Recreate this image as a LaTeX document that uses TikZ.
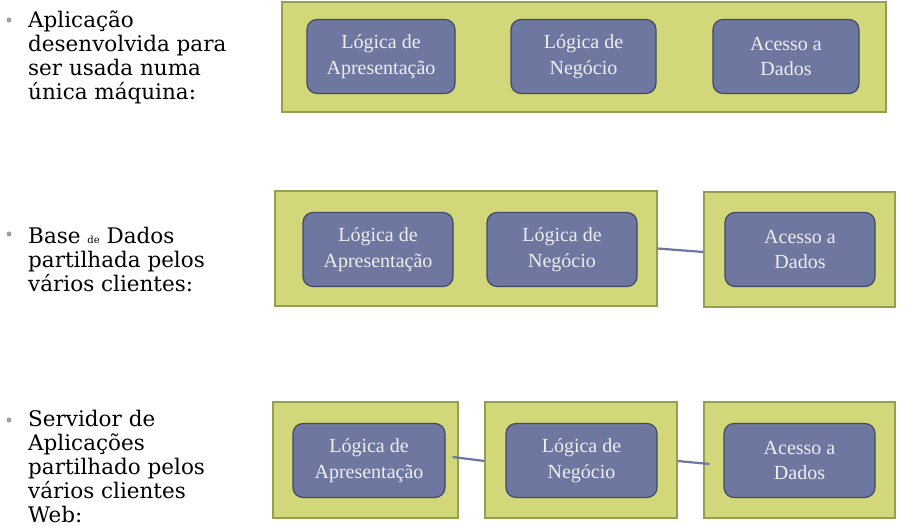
\documentclass[tikz,border=0pt]{standalone}
\usepackage{fontspec}
\usepackage{tikz}
\usetikzlibrary{positioning}
\newfontfamily\boxfont{Liberation Serif}
\newfontfamily\itemfont{DejaVu Serif}
\definecolor{tiergreen}{RGB}{210,215,122}
\definecolor{tierline}{RGB}{150,158,82}
\definecolor{layerblue}{RGB}{110,119,160}
\definecolor{layerline}{RGB}{66,74,104}
\definecolor{layertext}{RGB}{238,238,242}

\begin{document}
\begin{tikzpicture}
[x=1pt,y=-1pt,
 tier/.style={draw=tierline,fill=tiergreen,line width=1.2pt,inner sep=0pt},
 layer/.style={draw=layerline,fill=layerblue,line width=1.2pt,rounded corners=10pt,
   minimum height=74pt,align=center,text=layertext,
   font=\boxfont\fontsize{20}{25.5}\selectfont},
 link/.style={draw=layerblue,line width=2.2pt},
 dot/.style={circle,fill=gray!75,inner sep=0pt,minimum size=5pt},
 item/.style={anchor=north west,inner sep=0pt,align=left,
   font=\itemfont\fontsize{21.5}{24}\selectfont}]
\useasboundingbox (0,0) rectangle (910,526);

% bullets on the left
\node[dot] (p1) at (9,20) {};
\node[item] (t1) at (28,11) {Aplicação\\desenvolvida para\\ser usada numa\\única máquina:};
\node[dot] (p2) at (9,234) {};
\node[item] (t2) at (28,227) {Base {\fontsize{10}{10}\selectfont de} Dados\\partilhada pelos\\vários clientes:};
\node[dot] (p3) at (9,420) {};
\node[item] (t3) at (28,410) {Servidor de\\Aplicações\\partilhado pelos\\vários clientes\\Web:};

% one machine
\node[tier,minimum width=604pt,minimum height=110pt] (m1) at (584,57) {};
\node[layer,minimum width=148pt] (apres1) at (381,56.5) {Lógica de\\Apresentação};
\node[layer,minimum width=145pt] (neg1) at (583.5,56.5) {Lógica de\\Negócio};
\node[layer,minimum width=146pt] (dados1) at (786,56.5) {Acesso a\\Dados};

% shared database
\node[tier,minimum width=382pt,minimum height=115pt] (m2a) at (466,248.5) {};
\node[tier,minimum width=191pt,minimum height=115pt] (m2b) at (799.5,249.5) {};
\node[layer,minimum width=150pt] (apres2) at (378,249.5) {Lógica de\\Apresentação};
\node[layer,minimum width=150pt] (neg2) at (562,249.5) {Lógica de\\Negócio};
\node[layer,minimum width=150pt] (dados2) at (800,249.5) {Acesso a\\Dados};
\draw[link] (m2a.east) -- ([yshift=-2.5pt]m2b.west);

% application server
\node[tier,minimum width=185pt,minimum height=116pt] (m3a) at (365.5,460) {};
\node[tier,minimum width=192pt,minimum height=116pt] (m3b) at (581,460) {};
\node[tier,minimum width=191pt,minimum height=116pt] (m3c) at (799.5,460) {};
\node[layer,minimum width=152pt] (apres3) at (369,460.5) {Lógica de\\Apresentação};
\node[layer,minimum width=151pt] (neg3) at (581.5,460.5) {Lógica de\\Negócio};
\node[layer,minimum width=151pt] (dados3) at (799.5,460.5) {Acesso a\\Dados};
\draw[link] ([xshift=-6pt,yshift=3pt]m3a.east) -- ([yshift=-1pt]m3b.west);
\draw[link] ([yshift=-1pt]m3b.east) -- ([xshift=6pt,yshift=-4pt]m3c.west);
\end{tikzpicture}
\end{document}
